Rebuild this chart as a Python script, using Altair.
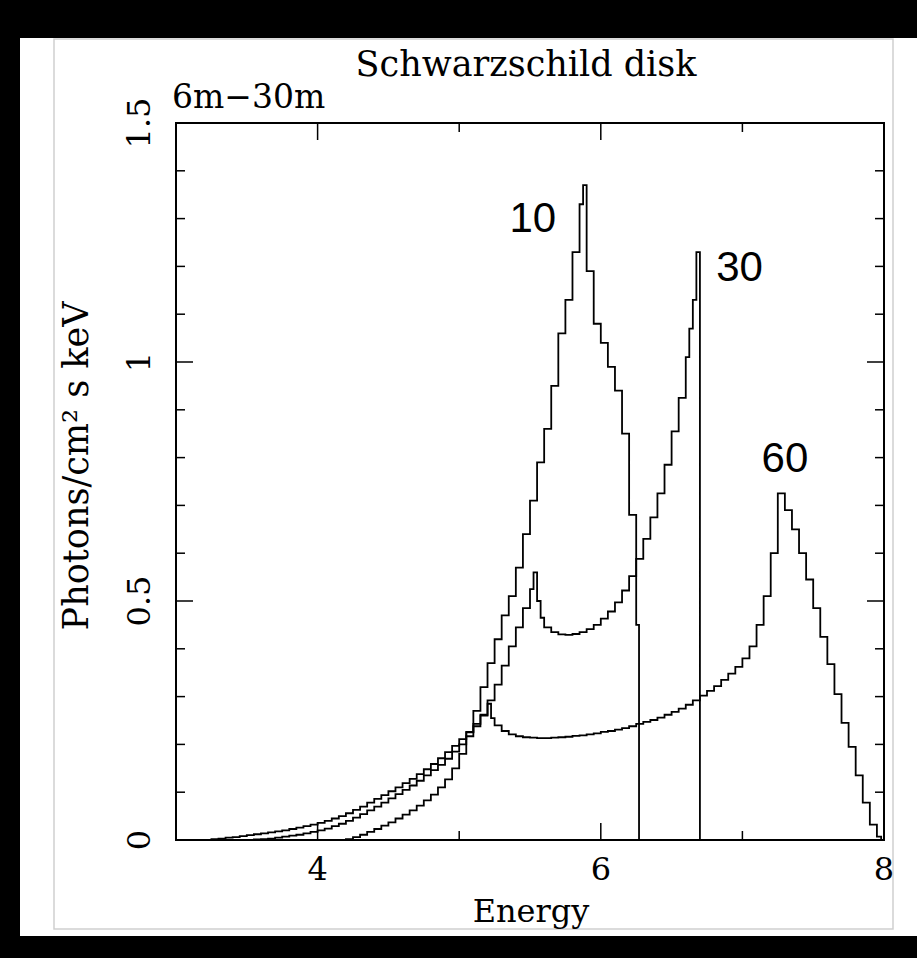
import altair as alt
import pandas as pd

# ---------------- text ----------------
TITLE = "Schwarzschild disk"
SUBTITLE = "6m\u221230m"
X_TITLE = "Energy"
Y_TITLE = "Photons/cm\u00b2 s keV"
SERIES = ["10", "30", "60"]

# ---------------- axis ticks / labels ----------------
X_LABELS = [4, 6, 8]
X_LABEL_TEXT = ["4", "6", "8"]
Y_LABELS = [0, 0.5, 1, 1.5]
Y_LABEL_TEXT = ["0", "0.5", "1", "1.5"]
X_MAJOR = [4, 6]
X_MINOR = [5, 7]
Y_MAJOR = [0.5, 1.0]
Y_MINOR = [0.1, 0.2, 0.3, 0.4, 0.6, 0.7, 0.8, 0.9, 1.1, 1.2, 1.3, 1.4]

# ---------------- histogram series (bin left edge, value) ----------------
E10 = [3.00, 4.20, 4.25, 4.30, 4.35, 4.40, 4.45, 4.50, 4.55, 4.60, 4.65, 4.70, 4.75,
       4.80, 4.85, 4.90, 4.95, 5.00, 5.05, 5.10, 5.15, 5.20, 5.25, 5.30, 5.35, 5.40,
       5.45, 5.50, 5.55, 5.60, 5.65, 5.70, 5.75, 5.80, 5.85, 5.875, 5.90, 5.95, 6.00,
       6.05, 6.10, 6.15, 6.20, 6.25, 6.27, 8.00]
V10 = [0, 0.002, 0.006, 0.011, 0.017, 0.023, 0.030, 0.037, 0.045, 0.053, 0.062, 0.072, 0.083,
       0.095, 0.110, 0.127, 0.150, 0.180, 0.225, 0.270, 0.320, 0.370, 0.420, 0.470, 0.510, 0.570,
       0.640, 0.710, 0.790, 0.860, 0.950, 1.060, 1.130, 1.230, 1.330, 1.370, 1.190, 1.080, 1.040,
       0.990, 0.940, 0.850, 0.680, 0.450, 0, 0]

E30 = [3.00, 3.55, 3.60, 3.65, 3.70, 3.75, 3.80, 3.85, 3.90, 3.95, 4.00, 4.05, 4.10, 4.15,
       4.20, 4.25, 4.30, 4.35, 4.40, 4.45, 4.50, 4.55, 4.60, 4.65, 4.70, 4.75, 4.80, 4.85,
       4.90, 4.95, 5.00, 5.05, 5.10, 5.15, 5.20, 5.25, 5.30, 5.35, 5.40, 5.45, 5.50, 5.525,
       5.55, 5.575, 5.60, 5.65, 5.70, 5.75, 5.80, 5.85, 5.90, 5.95, 6.00, 6.05, 6.10, 6.15,
       6.20, 6.25, 6.30, 6.35, 6.40, 6.45, 6.50, 6.55, 6.60, 6.625, 6.65, 6.675, 6.70, 8.00]
V30 = [0, 0.001, 0.002, 0.003, 0.005, 0.007, 0.009, 0.011, 0.014, 0.017, 0.020, 0.024, 0.029, 0.034,
       0.040, 0.047, 0.054, 0.062, 0.070, 0.078, 0.087, 0.096, 0.105, 0.114, 0.124, 0.135, 0.146, 0.157,
       0.170, 0.185, 0.200, 0.217, 0.238, 0.262, 0.292, 0.325, 0.365, 0.405, 0.445, 0.485, 0.525, 0.560,
       0.500, 0.465, 0.445, 0.435, 0.430, 0.429, 0.431, 0.435, 0.441, 0.450, 0.463, 0.478, 0.497, 0.522,
       0.552, 0.588, 0.630, 0.675, 0.725, 0.785, 0.855, 0.925, 1.010, 1.070, 1.130, 1.230, 0, 0]

E60 = [3.00, 3.25, 3.30, 3.35, 3.40, 3.45, 3.50, 3.55, 3.60, 3.65, 3.70, 3.75, 3.80, 3.85,
       3.90, 3.95, 4.00, 4.05, 4.10, 4.15, 4.20, 4.25, 4.30, 4.35, 4.40, 4.45, 4.50, 4.55,
       4.60, 4.65, 4.70, 4.75, 4.80, 4.85, 4.90, 4.95, 5.00, 5.05, 5.10, 5.15, 5.20, 5.225,
       5.25, 5.30, 5.35, 5.40, 5.45, 5.50, 5.55, 5.60, 5.65, 5.70, 5.75, 5.80, 5.85, 5.90,
       5.95, 6.00, 6.05, 6.10, 6.15, 6.20, 6.25, 6.30, 6.35, 6.40, 6.45, 6.50, 6.55, 6.60,
       6.65, 6.70, 6.75, 6.80, 6.85, 6.90, 6.95, 7.00, 7.05, 7.10, 7.15, 7.20, 7.25, 7.30,
       7.35, 7.40, 7.45, 7.50, 7.55, 7.60, 7.65, 7.70, 7.75, 7.80, 7.85, 7.90, 7.95, 7.98, 8.00]
V60 = [0, 0.002, 0.003, 0.005, 0.006, 0.008, 0.010, 0.012, 0.014, 0.016, 0.018, 0.020, 0.023, 0.026,
       0.029, 0.032, 0.036, 0.040, 0.045, 0.050, 0.056, 0.063, 0.070, 0.078, 0.086, 0.094, 0.102, 0.110,
       0.119, 0.128, 0.138, 0.148, 0.159, 0.171, 0.184, 0.197, 0.211, 0.226, 0.243, 0.260, 0.285, 0.255,
       0.240, 0.228, 0.221, 0.217, 0.215, 0.214, 0.213, 0.213, 0.214, 0.215, 0.216, 0.218, 0.219, 0.221,
       0.223, 0.226, 0.228, 0.231, 0.234, 0.238, 0.243, 0.247, 0.251, 0.256, 0.262, 0.268, 0.275, 0.283,
       0.292, 0.302, 0.312, 0.322, 0.335, 0.348, 0.362, 0.380, 0.405, 0.450, 0.510, 0.600, 0.725, 0.690,
       0.650, 0.600, 0.545, 0.485, 0.425, 0.368, 0.305, 0.245, 0.195, 0.135, 0.078, 0.032, 0.007, 0, 0]

# ---------------- layout constants ----------------
W, H = 708, 717
SERIF = "DejaVu Serif"
FS = 32
MAJ, MIN = 17, 9

frames = []
for name, es, vs in zip(SERIES, [E10, E30, E60], [V10, V30, V60]):
    assert len(es) == len(vs), name
    frames.append(pd.DataFrame({"E": es, "v": vs, "series": name}))
df = pd.concat(frames, ignore_index=True)

xs = alt.Scale(domain=[3, 8], nice=False, zero=False)
ys = alt.Scale(domain=[0, 1.5], nice=False)

one = pd.DataFrame({"k": [0]})

# the three line profiles (histograms)
lines = alt.Chart(df).mark_line(interpolate="step-after", color="black", strokeWidth=1.8,
                                clip=True).encode(
    x=alt.X("E:Q", scale=xs, axis=None),
    y=alt.Y("v:Q", scale=ys, axis=None),
    detail="series:N",
)

# page decoration (black screen edges + light panel border)
def strip(x1, x2, y1, y2):
    return alt.Chart(one).mark_rect(color="black", clip=False).encode(
        x=alt.value(x1), x2=alt.value(x2), y=alt.value(y1), y2=alt.value(y2))

strips = [strip(-176, -156, -123, 835), strip(-176, 741, -123, -85), strip(-176, 741, 813, 835)]
border = alt.Chart(one).mark_rect(filled=False, stroke="#cfcfcf", strokeWidth=1.5,
                                  clip=False).encode(
    x=alt.value(-122), x2=alt.value(717), y=alt.value(-84), y2=alt.value(806))

# inward ticks on all four sides
def xticks(vals, length):
    d = pd.DataFrame({"t": vals})
    b = alt.Chart(d).mark_rule(color="black", strokeWidth=1.5).encode(
        x=alt.X("t:Q", scale=xs, axis=None), y=alt.value(H), y2=alt.value(H - length))
    t = alt.Chart(d).mark_rule(color="black", strokeWidth=1.5).encode(
        x=alt.X("t:Q", scale=xs, axis=None), y=alt.value(0), y2=alt.value(length))
    return [b, t]

def yticks(vals, length):
    d = pd.DataFrame({"t": vals})
    l = alt.Chart(d).mark_rule(color="black", strokeWidth=1.5).encode(
        y=alt.Y("t:Q", scale=ys, axis=None), x=alt.value(0), x2=alt.value(length))
    r = alt.Chart(d).mark_rule(color="black", strokeWidth=1.5).encode(
        y=alt.Y("t:Q", scale=ys, axis=None), x=alt.value(W), x2=alt.value(W - length))
    return [l, r]

ticks = xticks(X_MAJOR, MAJ) + xticks(X_MINOR, MIN) + yticks(Y_MAJOR, MAJ) + yticks(Y_MINOR, MIN)

# tick labels
x_lab = alt.Chart(pd.DataFrame({"t": X_LABELS, "s": X_LABEL_TEXT})).mark_text(
    font=SERIF, fontSize=FS, color="black", align="center", baseline="middle", clip=False).encode(
    x=alt.X("t:Q", scale=xs, axis=None), y=alt.value(H + 30), text="s:N")
y_lab = alt.Chart(pd.DataFrame({"t": Y_LABELS, "s": Y_LABEL_TEXT})).mark_text(
    font=SERIF, fontSize=FS, color="black", align="center", baseline="alphabetic", angle=270,
    clip=False).encode(
    y=alt.Y("t:Q", scale=ys, axis=None), x=alt.value(-26), text="s:N")

# axis titles, chart title, subtitle
x_title = alt.Chart(one).mark_text(text=X_TITLE, font=SERIF, fontSize=FS, color="black",
                                   align="center", baseline="middle", clip=False).encode(
    x=alt.value(355), y=alt.value(H + 72))
y_title = alt.Chart(one).mark_text(text=Y_TITLE, font=SERIF, fontSize=35, color="black",
                                   align="center", baseline="middle", angle=270,
                                   clip=False).encode(
    x=alt.value(-99), y=alt.value(343))
title_txt = alt.Chart(one).mark_text(text=TITLE, font=SERIF, fontSize=35, color="black",
                                     align="center", baseline="middle", clip=False).encode(
    x=alt.value(350), y=alt.value(-58))
sub_txt = alt.Chart(one).mark_text(text=SUBTITLE, font=SERIF, fontSize=33, color="black",
                                   align="left", baseline="middle", clip=False).encode(
    x=alt.value(-4), y=alt.value(-25))

peak_df = pd.DataFrame({"label": SERIES, "E": [5.52, 6.98, 7.30], "v": [1.30, 1.197, 0.797]})
peak_labels = alt.Chart(peak_df).mark_text(font="Liberation Sans", fontSize=42, color="black",
                                           align="center", baseline="middle").encode(
    x=alt.X("E:Q", scale=xs, axis=None), y=alt.Y("v:Q", scale=ys, axis=None), text="label:N")

chart = alt.layer(lines, *strips, border, *ticks, x_lab, y_lab, x_title, y_title,
                  peak_labels, title_txt, sub_txt).properties(
    width=W, height=H, autosize="none",
    padding={"left": 176, "top": 123, "right": 33, "bottom": 118},
).configure(background="white").configure_view(stroke="black", strokeWidth=2)

chart.save("out.html", embed_options={"renderer": "svg", "actions": False})
